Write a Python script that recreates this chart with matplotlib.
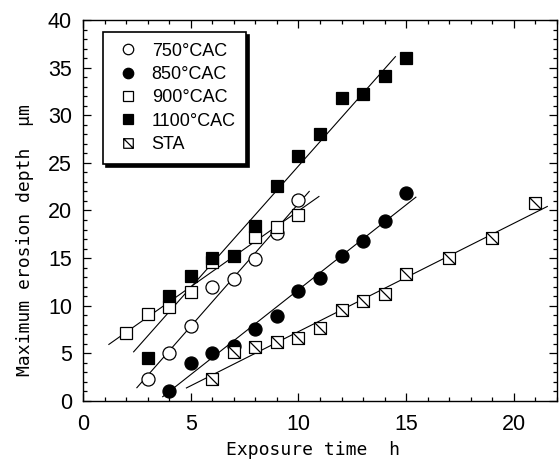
import matplotlib
matplotlib.use("Agg")
import matplotlib.pyplot as plt
import numpy as np
from matplotlib import font_manager
from matplotlib.path import Path
from matplotlib.ticker import MultipleLocator

# exposure time (h) and maximum erosion depth (um)
t_750 = [3, 4, 5, 6, 7, 8, 9, 10]
d_750 = [2.3, 5.0, 7.9, 12.0, 12.8, 14.9, 17.6, 21.1]

t_850 = [4, 5, 6, 7, 8, 9, 10, 11, 12, 13, 14, 15]
d_850 = [1.1, 4.0, 5.0, 5.8, 7.6, 8.9, 11.5, 12.9, 15.2, 16.8, 18.9, 21.8]

t_900 = [2, 3, 4, 5, 6, 8, 9, 10]
d_900 = [7.1, 9.1, 9.9, 11.4, 14.6, 17.2, 18.3, 19.5]

t_1100 = [3, 4, 5, 6, 7, 8, 9, 10, 11, 12, 13, 14, 15]
d_1100 = [4.5, 11.0, 13.1, 15.0, 15.2, 18.4, 22.6, 25.7, 28.0, 31.8, 32.2, 34.1, 36.0]

t_sta = [6, 7, 8, 9, 10, 11, 12, 13, 14, 15, 17, 19, 21]
d_sta = [2.3, 5.1, 5.7, 6.2, 6.6, 7.7, 9.6, 10.5, 11.2, 13.3, 15.0, 17.1, 20.8]

labels = ["750°CAC", "850°CAC", "900°CAC", "1100°CAC", "STA"]
# extent of each regression line along the time axis
fit_span = [(2.5, 10.5), (3.7, 15.45), (1.2, 10.95), (2.35, 14.5), (4.8, 21.55)]

# open square with a diagonal stroke
sta_marker = Path([(-1, -1), (1, -1), (1, 1), (-1, 1), (-1, -1), (-1, 1), (1, -1)],
                  [Path.MOVETO, Path.LINETO, Path.LINETO, Path.LINETO, Path.CLOSEPOLY,
                   Path.MOVETO, Path.LINETO])

styles = [
    dict(marker="o", ms=9.4, mfc="white"),
    dict(marker="o", ms=9.4, mfc="black"),
    dict(marker="s", ms=8.6, mfc="white"),
    dict(marker="s", ms=8.6, mfc="black"),
    dict(marker=sta_marker, ms=8.6, mfc="white"),
]

# narrow face for the numbers if there is one
try:
    font_manager.findfont("Liberation Sans Narrow", fallback_to_default=False)
    num_font, num_size = ["Liberation Sans Narrow", "DejaVu Sans"], 17
except ValueError:
    num_font, num_size = ["Liberation Sans", "DejaVu Sans"], 15.5
mono_font = ["DejaVu Sans Mono"]

fig = plt.figure(figsize=(5.6, 4.61), dpi=100)
ax = fig.add_axes([83 / 560, 1 - 401 / 461, 474 / 560, 381 / 461])

series = [(t_750, d_750), (t_850, d_850), (t_900, d_900), (t_1100, d_1100), (t_sta, d_sta)]
for (t, d), lab, st, span in zip(series, labels, styles, fit_span):
    k, b = np.polyfit(t, d, 1)
    xs = np.array(span)
    ax.plot(xs, k * xs + b, color="black", lw=0.8, zorder=2)
    ax.plot(t, d, ls="none", mec="black", mew=0.9, label=lab, zorder=3, **st)

ax.set_xlim(0, 22)
ax.set_ylim(0, 40)
ax.xaxis.set_major_locator(MultipleLocator(5))
ax.xaxis.set_minor_locator(MultipleLocator(1))
ax.yaxis.set_major_locator(MultipleLocator(5))
ax.yaxis.set_minor_locator(MultipleLocator(1))
ax.tick_params(which="both", direction="in", top=True, right=True, width=0.9)
ax.tick_params(which="major", length=6, labelsize=num_size)
ax.tick_params(axis="x", which="major", pad=9)
ax.tick_params(axis="y", which="major", pad=8)
ax.tick_params(which="minor", length=3)
for lab in ax.get_xticklabels() + ax.get_yticklabels():
    lab.set_family(num_font)
for sp in ax.spines.values():
    sp.set_linewidth(1.0)

ax.set_xlabel("Exposure time  h", family=mono_font, fontsize=13)
ax.set_ylabel("Maximum erosion depth  μm", family=mono_font, fontsize=13)
ax.xaxis.set_label_coords((313 - 83) / 474, -(441 - 401) / 381)
ax.yaxis.set_label_coords(-(83 - 34) / 474, (401 - 240) / 381)

leg = ax.legend(loc="upper left", bbox_to_anchor=(0.042, 0.969), borderaxespad=0,
                frameon=True, fancybox=False, edgecolor="black", markerscale=0.8,
                prop={"family": ["Liberation Sans", "DejaVu Sans"], "size": 13},
                handletextpad=0.5, labelspacing=0.35, borderpad=0.6, handlelength=1.6,
                shadow={"ox": 2, "oy": -2, "color": "black", "alpha": 1})
leg.get_frame().set_linewidth(1.2)
leg.get_frame().set_alpha(1)

fig.savefig("out.png", dpi=100)
